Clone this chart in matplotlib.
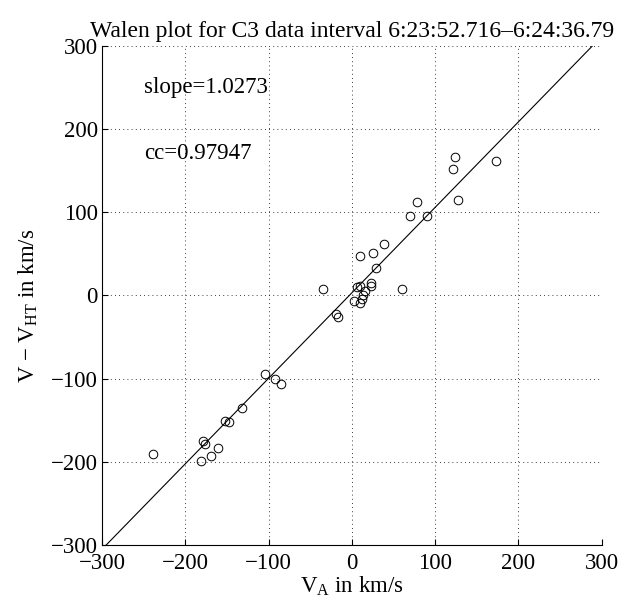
import matplotlib
matplotlib.use("Agg")
import matplotlib.pyplot as plt
import numpy as np

# ---- data ----
v_alfven = [123.4, 121.8, 172.7, 127.0, 78.1, 69.3, 90.5, 38.9, 9.6, 26.0, 29.2, -34.1, 59.7,
            6.0, 9.2, 22.9, 22.9, 16.0, 13.2, 11.6, 2.0, 9.2, -18.8, -17.2,
            -103.8, -92.5, -84.5, -132.2, -152.2, -147.4, -179.1, -176.7, -160.3, -168.7, -180.7, -238.8]
v_minus_vht = [165.8, 152.1, 161.1, 114.7, 112.5, 95.4, 95.8, 62.3, 47.7, 50.7, 32.6, 8.2, 8.2,
               9.9, 11.5, 14.3, 11.5, 5.6, 0.4, -4.4, -6.8, -9.5, -22.3, -25.8,
               -94.1, -100.5, -106.5, -135.7, -151.2, -152.1, -174.8, -178.3, -183.8, -193.3, -199.3, -191.2]
slope = 1.0273
intercept = 3.0
cc = 0.97947
ticks = [-300, -200, -100, 0, 100, 200, 300]
title = "Walen plot for C3 data interval 6:23:52.716\u20136:24:36.79"

plt.rcParams['font.family'] = ['Liberation Serif', 'DejaVu Serif']
plt.rcParams['mathtext.fontset'] = 'custom'
plt.rcParams['mathtext.rm'] = 'Liberation Serif'
plt.rcParams['mathtext.it'] = 'Liberation Serif:italic'
FS = 16.5

fig = plt.figure(figsize=(6.25, 6.03), dpi=100)
ax = fig.add_axes([0.1632, 0.0962, 0.7995, 0.828])

ax.plot(v_alfven, v_minus_vht, linestyle='none', marker='o', markersize=6.2,
        markerfacecolor='none', markeredgecolor='k', markeredgewidth=0.7)
xl = np.array([-300, 300])
ax.plot(xl, slope * xl + intercept, color='k', linewidth=0.8)

ax.set_xlim(-300, 300)
ax.set_ylim(-300, 300)
ax.set_xticks(ticks)
ax.set_yticks(ticks)
ax.tick_params(direction='in', length=4, width=0.8, labelsize=FS, pad=6,
               top=False, right=False)
ax.tick_params(axis='y', pad=3)
for s in ['top', 'right']:
    ax.spines[s].set_visible(False)
for s in ['left', 'bottom']:
    ax.spines[s].set_linewidth(0.8)
ax.grid(True, color='k', linewidth=0.6, linestyle=(0, (1, 4)))

ax.text(-250, 250, 'slope=%.4f' % slope, fontsize=FS, ha='left', va='center')
ax.text(-250, 170, 'cc=%.5f' % cc, fontsize=FS, ha='left', va='center')

ax.set_xlabel(r'V$_{\rm A}$ in km/s', fontsize=FS, labelpad=0)
ax.set_ylabel('V \u2212 V$_{\\rm HT}$ in km/s', fontsize=FS)
ax.yaxis.set_label_coords(-0.125, 0.48)
ax.set_title(title, fontsize=17, pad=6)

fig.savefig('out.png', dpi=100)
